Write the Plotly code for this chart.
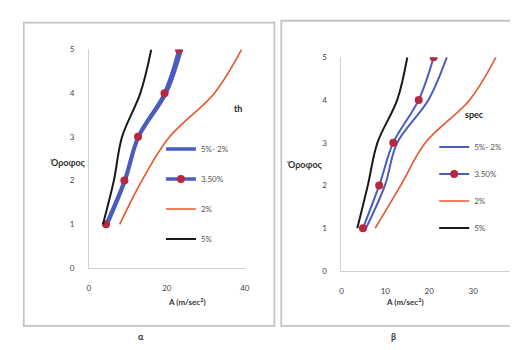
import plotly.graph_objects as go

floors = [1, 2, 3, 4, 5]
series_names = ["5%- 2%", "3.50%", "2%", "5%"]

# panel α ("th")
th_5_2 = [4.7, 9.3, 12.8, 19.8, 23.7]
th_350 = [4.4, 9.1, 12.6, 19.4, 23.1]
th_2 = [7.9, 13.6, 20.7, 32.2, 39.2]
th_5 = [3.6, 6.4, 8.5, 13.2, 16.0]

# panel β ("spec")
sp_5_2 = [5.6, 9.9, 12.7, 19.8, 24.0]
sp_350 = [4.9, 8.6, 11.8, 17.6, 21.0]
sp_2 = [7.7, 13.5, 19.1, 29.2, 35.2]
sp_5 = [3.6, 6.0, 8.2, 12.7, 15.0]

x_ticks_a = [0, 20, 40]
x_ticks_b = [0, 10, 20, 30, 40]
y_ticks = [0, 1, 2, 3, 4, 5]

W, H = 518, 350
FONT = "Lato"
BLUE = "#4a5cc0"
RED = "#b8283f"
ORANGE = "#e8542a"
BLACK = "#1a1a1a"

def px(x):
    return x / W

def py(y):
    return 1 - y / H

fig = go.Figure()

def add_panel(xa, ya, legend, vals, wblue):
    s52, s35, s2, s5 = vals
    common = dict(mode="lines", line_shape="spline", xaxis=xa, yaxis=ya, legend=legend)
    fig.add_trace(go.Scatter(x=s52, y=floors, name=series_names[0], legendgroup=legend + "a",
                             line=dict(color=BLUE, width=wblue), **common))
    fig.add_trace(go.Scatter(x=s35, y=floors, name=series_names[1], legendgroup=legend + "b",
                             mode="lines+markers", line_shape="spline", xaxis=xa, yaxis=ya, legend=legend,
                             line=dict(color=BLUE, width=wblue),
                             marker=dict(color=RED, size=8, line=dict(width=0))))
    fig.add_trace(go.Scatter(x=s2, y=floors, name=series_names[2], legendgroup=legend + "c",
                             line=dict(color=ORANGE, width=1.6), **common))
    fig.add_trace(go.Scatter(x=s5, y=floors, name=series_names[3], legendgroup=legend + "d",
                             line=dict(color=BLACK, width=2), **common))

add_panel("x", "y", "legend", (th_5_2, th_350, th_2, th_5), 3.5)
add_panel("x2", "y2", "legend2", (sp_5_2, sp_350, sp_2, sp_5), 2)

axis_common = dict(showline=True, linecolor="#d0d0d0", linewidth=1, showgrid=False,
                   zeroline=False, ticks="", tickfont=dict(family=FONT, size=8, color="#444"))

fig.update_layout(
    width=W, height=H,
    margin=dict(l=0, r=0, t=0, b=0),
    paper_bgcolor="white", plot_bgcolor="white",
    font=dict(family=FONT, size=8, color="#444"),
    xaxis=dict(domain=[px(80), px(238)], range=[0, 40], tickvals=x_ticks_a,
               anchor="y", ticklabelstandoff=12, **axis_common),
    yaxis=dict(domain=[py(262.5), py(37.5)], range=[0, 5], tickvals=y_ticks,
               anchor="x", ticklabelstandoff=12, **axis_common),
    xaxis2=dict(domain=[px(336), px(514)], range=[0, 40], tickvals=x_ticks_b,
                anchor="y2", ticklabelstandoff=12, **axis_common),
    yaxis2=dict(domain=[py(265.5), py(45.5)], range=[0, 5], tickvals=y_ticks,
                anchor="x2", ticklabelstandoff=12, **axis_common),
    legend=dict(x=px(153), y=py(125), xanchor="left", yanchor="top",
                font=dict(family=FONT, size=8, color="#555"), tracegroupgap=11,
                itemwidth=30, bgcolor="rgba(0,0,0,0)"),
    legend2=dict(x=px(430), y=py(123), xanchor="left", yanchor="top",
                 font=dict(family=FONT, size=8, color="#555"), tracegroupgap=8,
                 itemwidth=30, bgcolor="rgba(0,0,0,0)"),
    showlegend=True,
)

# panel frames
fig.add_shape(type="rect", xref="paper", yref="paper", x0=px(14), x1=px(268), y0=py(322), y1=py(10),
              line=dict(color="#c4c4c4", width=1.8))
fig.add_shape(type="rect", xref="paper", yref="paper", x0=px(275), x1=px(522), y0=py(322), y1=py(8),
              line=dict(color="#c4c4c4", width=1.8))

def ann(x, y, text, size=8, bold=False, color="#333"):
    fig.add_annotation(x=px(x), y=py(y), xref="paper", yref="paper", text=f"<b>{text}</b>" if bold else text,
                       showarrow=False, font=dict(family=FONT, size=size, color=color))

ann(39, 154, "Όροφος", 9, True)
ann(299, 156, "Όροφος", 9, True)
ann(158, 305, "A (m/sec<sup>2</sup>)", 8, True)
ann(422, 305, "A (m/sec<sup>2</sup>)", 8, True)
ann(231, 91, "th", 9, True, "#222")
ann(483, 97, "spec", 9, True, "#222")
ann(128, 341, "α", 9, True, "#333")
ann(393, 341, "β", 9, True, "#333")

fig.write_html("out.html")
